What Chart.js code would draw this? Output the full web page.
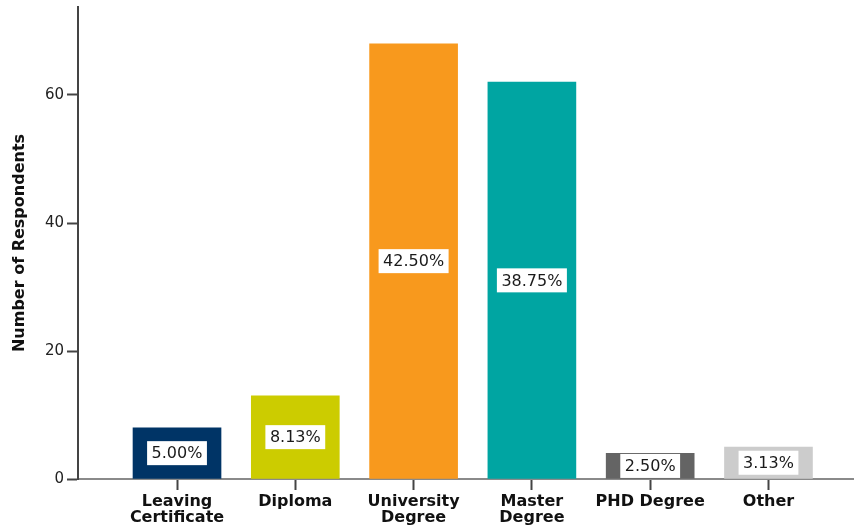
<!DOCTYPE html>
<html>
<head>
<meta charset="utf-8">
<script src="https://cdn.jsdelivr.net/npm/chart.js@4"></script>
<style>
  html, body { margin: 0; padding: 0; background: #fff; overflow: hidden; }
  #wrap { width: 854px; height: 530px; }
</style>
</head>
<body>
<div id="wrap"><canvas id="eduChart" width="854" height="530"></canvas></div>
<script>
const categories = [
  ["Leaving", "Certificate"],
  "Diploma",
  ["University", "Degree"],
  ["Master", "Degree"],
  "PHD Degree",
  "Other"
];
const respondents = [8, 13, 68, 62, 4, 5];
const percentLabels = ["5.00%", "8.13%", "42.50%", "38.75%", "2.50%", "3.13%"];
const barColors = ["#003466", "#cccc00", "#f8991d", "#00a5a2", "#646464", "#cccccc"];
const yTicks = [0, 20, 40, 60];

// white boxes with the percentage, centred in each bar
const boxLabels = {
  id: "boxLabels",
  afterDatasetsDraw(chart) {
    const ctx = chart.ctx;
    const meta = chart.getDatasetMeta(0);
    ctx.save();
    ctx.font = "16px 'DejaVu Sans'";
    ctx.textAlign = "center";
    ctx.textBaseline = "middle";
    meta.data.forEach((bar, i) => {
      const txt = percentLabels[i];
      const w = ctx.measureText(txt).width + 9;
      const h = 24;
      const cy = (bar.y + bar.base) / 2;
      ctx.fillStyle = "#ffffff";
      ctx.fillRect(bar.x - w / 2, cy - h / 2, w, h);
      ctx.fillStyle = "#1a1a1a";
      ctx.fillText(txt, bar.x, cy + 1);
    });
    ctx.restore();
  }
};

const ctx = document.getElementById("eduChart").getContext("2d");
new Chart(ctx, {
  type: "bar",
  data: {
    datasets: [{
      data: respondents.map((v, i) => ({ x: i, y: v })),
      backgroundColor: barColors,
      borderWidth: 0,
      barThickness: 88
    }]
  },
  options: {
    responsive: false,
    animation: false,
    layout: { padding: { top: 7, left: 0, right: 0, bottom: 0 } },
    plugins: {
      legend: { display: false },
      tooltip: { enabled: false }
    },
    scales: {
      x: {
        type: "linear",
        offset: false,
        min: -0.837,
        max: 5.723,
        afterBuildTicks: s => { s.ticks = categories.map((_, i) => ({ value: i })); },
        afterFit: s => { s.height = 51; s.paddingLeft = 0; s.paddingRight = 0; },
        grid: { offset: false, drawOnChartArea: false, tickLength: 11, tickColor: "#444", tickWidth: 2 },
        border: { color: "#8a8a8a", width: 2 },
        ticks: {
          autoSkip: false,
          maxRotation: 0,
          padding: 3,
          color: "#111",
          font: { family: "'DejaVu Sans'", size: 16, weight: "bold", lineHeight: 1.05 },
          callback: v => categories[v]
        }
      },
      y: {
        min: 0,
        max: 73.75,
        afterBuildTicks: s => { s.ticks = yTicks.map(v => ({ value: v })); },
        afterFit: s => { s.width = 78; s.paddingTop = 0; s.paddingBottom = 0; },
        grid: { drawOnChartArea: false, tickLength: 11, tickColor: "#444", tickWidth: 2 },
        border: { color: "#444", width: 2 },
        ticks: {
          padding: 3,
          color: "#222",
          font: { family: "'DejaVu Sans'", size: 15 }
        },
        title: {
          display: true,
          text: "Number of Respondents",
          color: "#111",
          padding: { top: 10, bottom: 0 },
          font: { family: "'DejaVu Sans'", size: 16, weight: "bold" }
        }
      }
    }
  },
  plugins: [boxLabels]
});
</script>
</body>
</html>
